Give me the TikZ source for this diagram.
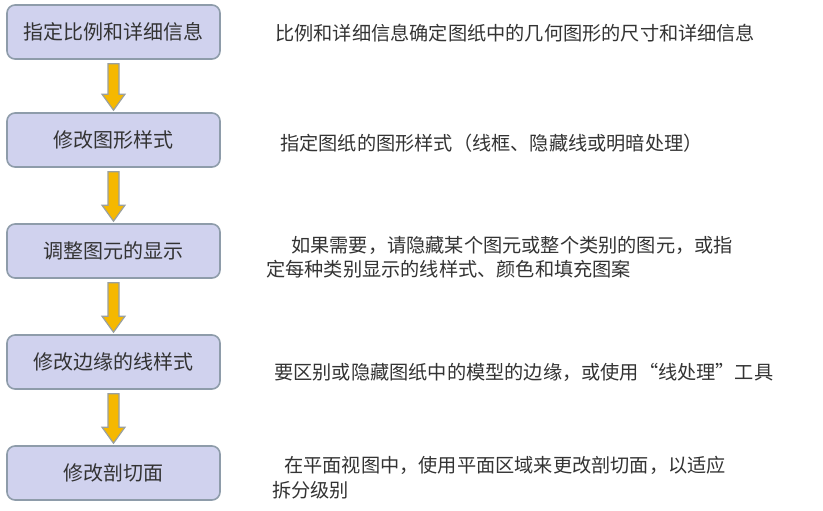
\documentclass[tikz,border=0pt]{standalone}
\usepackage{fontspec}
\setmainfont{Noto Sans CJK SC}
\usetikzlibrary{calc}
\definecolor{boxfill}{HTML}{D0D2EE}
\definecolor{boxline}{HTML}{8E9CAA}
\definecolor{arrfill}{HTML}{F5B800}
\definecolor{arrline}{HTML}{9AA0A0}
\definecolor{txt}{HTML}{333333}
\tikzset{
  stepbox/.style={draw=boxline, line width=1.6pt, fill=boxfill, rounded corners=8pt,
    minimum width=213pt, minimum height=54pt, inner sep=0pt, text=txt,
    font=\fontsize{20pt}{24pt}\selectfont},
  desc/.style={anchor=west, inner sep=0pt, align=left, text=txt,
    font=\fontsize{19.2pt}{24.5pt}\selectfont},
  fatarr/.style={draw=arrline, line width=1.2pt, fill=arrfill, line join=miter}
}
\newcommand{\fatarrow}[2]{%
  \draw[fatarr] let \p1=(#1.south), \p2=(#2.north) in
    (\x1-5.5pt,\y1-4pt) -- (\x1+5.5pt,\y1-4pt) -- (\x1+5.5pt,\y2+18pt)
    -- (\x1+11.5pt,\y2+18pt) -- (\x1,\y2+2pt) -- (\x1-11.5pt,\y2+18pt)
    -- (\x1-5.5pt,\y2+18pt) -- cycle;}
\begin{document}
\begin{tikzpicture}[x=1pt,y=-1pt]
\useasboundingbox (0,0) rectangle (823,511);
\node[stepbox] (b1) at (113.5,32) {指定比例和详细信息};
\node[stepbox] (b2) at (113.5,140) {修改图形样式};
\node[stepbox] (b3) at (113.5,251) {调整图元的显示};
\node[stepbox] (b4) at (113.5,362) {修改边缘的线样式};
\node[stepbox] (b5) at (113.5,473) {修改剖切面};
\fatarrow{b1}{b2}
\fatarrow{b2}{b3}
\fatarrow{b3}{b4}
\fatarrow{b4}{b5}
\node[desc] (t1) at (275,33) {比例和详细信息确定图纸中的几何图形的尺寸和详细信息};
\node[desc] (t2) at (280,143) {指定图纸的图形样式（线框、隐藏线或明暗处理）};
\node[desc] (t3) at (266,257) {\hspace*{25pt}如果需要，请隐藏某个图元或整个类别的图元，或指\\定每种类别显示的线样式、颜色和填充图案};
\node[desc] (t4) at (274,372) {要区别或隐藏图纸中的模型的边缘，或使用“线处理”工具};
\node[desc] (t5) at (272,477.5) {\hspace*{12pt}在平面视图中，使用平面区域来更改剖切面，以适应\\拆分级别};
\end{tikzpicture}
\end{document}
